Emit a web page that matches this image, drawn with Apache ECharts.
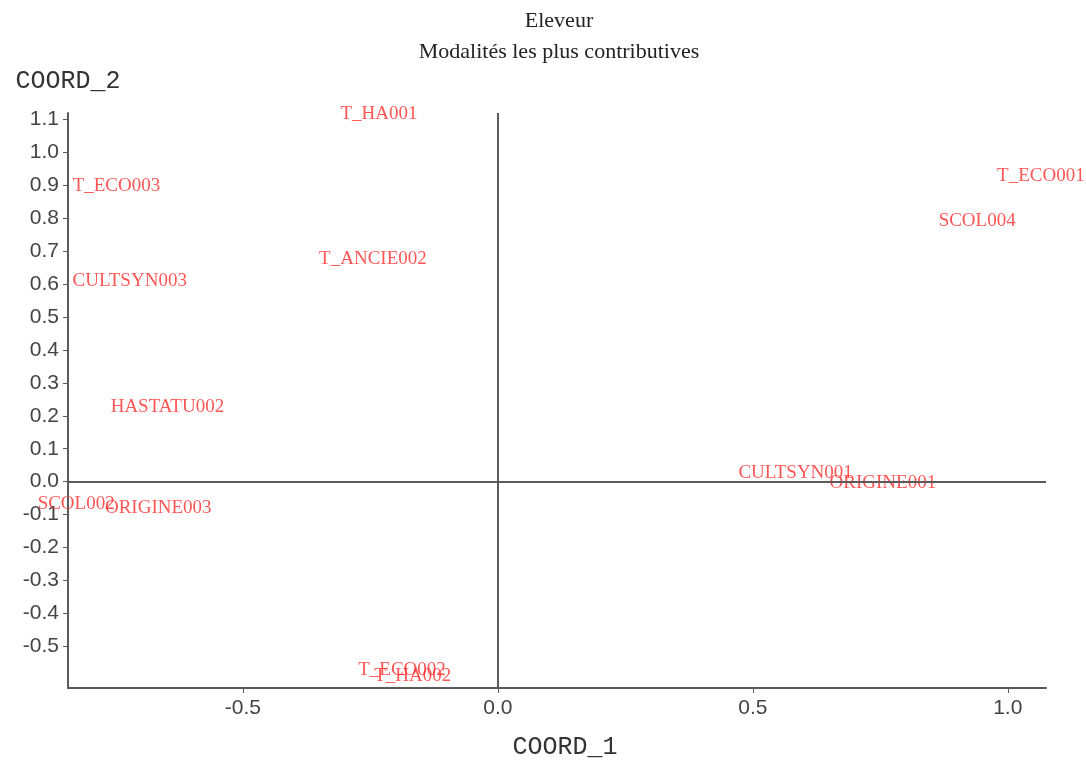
<!DOCTYPE html>
<html>
<head>
<meta charset="utf-8">
<script src="https://cdn.jsdelivr.net/npm/echarts@6/dist/echarts.min.js"></script>
<style>html,body{margin:0;padding:0;background:#fff;}#c{width:1086px;height:765px;}</style>
</head>
<body>
<div id="c"></div>
<script>
var labels = ['T_HA001','T_ECO003','T_ECO001','SCOL004','T_ANCIE002','CULTSYN003','HASTATU002','CULTSYN001','ORIGINE001','SCOL002','ORIGINE003','T_ECO002','T_HA002'];
var coord1 = [-0.233,-0.748,1.065,0.940,-0.245,-0.722,-0.648,0.584,0.755,-0.827,-0.666,-0.188,-0.167];
var coord2 = [1.118,0.897,0.930,0.791,0.676,0.609,0.227,0.027,-0.003,-0.067,-0.079,-0.573,-0.591];
var xTicks = [-0.5,0.0,0.5,1.0];
var yTicks = [-0.5,-0.4,-0.3,-0.2,-0.1,0.0,0.1,0.2,0.3,0.4,0.5,0.6,0.7,0.8,0.9,1.0,1.1];
var titleText = 'Eleveur';
var subtitleText = 'Modalités les plus contributives';

var data = labels.map(function(n,i){return [coord1[i], coord2[i], n];});
var axisCol = '#5a5a5a';
var chart = echarts.init(document.getElementById('c'), null, {renderer:'canvas'});
chart.setOption({
  backgroundColor:'#fff',
  animation:false,
  graphic:[
    {type:'text', x:559, y:21, style:{text:titleText, font:'22px "Liberation Serif"', fill:'#222', textAlign:'center', textVerticalAlign:'middle'}},
    {type:'text', x:559, y:52, style:{text:subtitleText, font:'22px "Liberation Serif"', fill:'#222', textAlign:'center', textVerticalAlign:'middle'}}
  ],
  grid:{left:68, right:40, top:113, bottom:75},
  xAxis:{
    type:'value', min:-0.843, max:1.075,
    name:'COORD_1', nameLocation:'middle', nameGap:47,
    nameTextStyle:{fontFamily:'Liberation Mono', fontSize:25, color:'#333', padding:[0,0,0,16]},
    axisLine:{onZero:false, lineStyle:{color:axisCol, width:2}},
    axisTick:{show:true, length:5, customValues:xTicks, lineStyle:{color:axisCol}},
    axisLabel:{customValues:xTicks, margin:10, fontFamily:'Liberation Sans', fontSize:21, color:'#444',
      formatter:function(v){return v.toFixed(1);}},
    splitLine:{show:false}
  },
  yAxis:{
    type:'value', min:-0.627, max:1.12,
    name:'COORD_2', nameLocation:'end', nameGap:19,
    nameTextStyle:{fontFamily:'Liberation Mono', fontSize:25, color:'#333', align:'center'},
    axisLine:{onZero:false, lineStyle:{color:axisCol, width:2}},
    axisTick:{show:true, length:5, customValues:yTicks, lineStyle:{color:axisCol}},
    axisLabel:{customValues:yTicks, margin:9, fontFamily:'Liberation Sans', fontSize:21, color:'#444',
      formatter:function(v){return v.toFixed(1);}},
    splitLine:{show:false}
  },
  series:[{
    type:'scatter',
    data:data,
    symbolSize:0,
    clip:false,
    label:{show:true, position:'inside', formatter:function(p){return p.data[2];},
      fontFamily:'Liberation Serif', fontSize:19, color:'#ff2a2a'},
    markLine:{
      silent:true, symbol:'none', animation:false,
      label:{show:false},
      lineStyle:{color:axisCol, width:2, type:'solid'},
      data:[{xAxis:0},{yAxis:0}]
    }
  }]
});
</script>
</body>
</html>
